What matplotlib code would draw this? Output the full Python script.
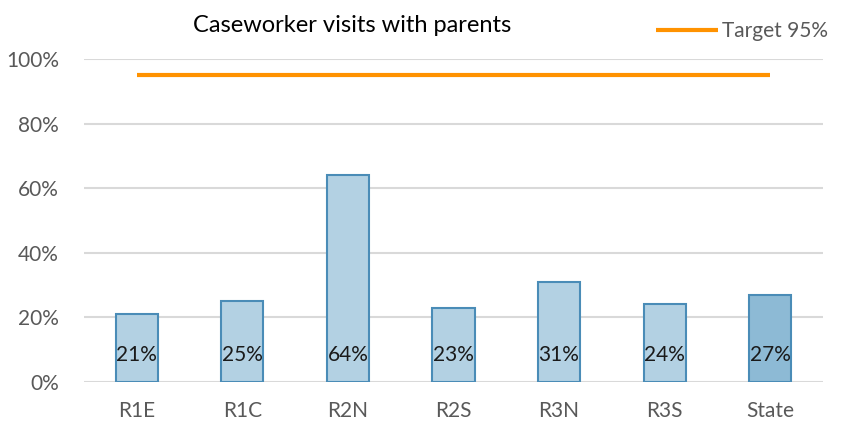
import matplotlib
matplotlib.use("Agg")
import matplotlib.pyplot as plt
from matplotlib.ticker import FuncFormatter

categories = ["R1E", "R1C", "R2N", "R2S", "R3N", "R3S", "State"]
values = [21, 25, 64, 23, 31, 24, 27]
target = [95, 95, 95, 95, 95, 95, 95]
title = "Caseworker visits with parents"

plt.rcParams['font.family'] = ['Lato', 'DejaVu Sans']

fig = plt.figure(figsize=(8.42, 4.23), dpi=100)
ax = fig.add_axes([84/842, 1-382/423, (823-84)/842, (382-59)/423])

x = list(range(len(categories)))
colors = ["#B3D1E3"] * (len(categories) - 1) + ["#8DBAD5"]
ax.bar(x, [v/100 for v in values], width=0.4, color=colors, edgecolor="#4A8CB7", linewidth=1.5, zorder=3)
ax.plot(x, [t/100 for t in target], color="#FF9200", linewidth=3, solid_capstyle='butt', zorder=4, label="Target 95%")

for xi, v in zip(x, values):
    ax.text(xi, 0.085, f"{v}%", ha="center", va="center", fontsize=15, color="#1a1a1a", zorder=5)

ax.set_xlim(-0.5, len(categories) - 0.5)
ax.set_ylim(0, 1.0)
ax.set_yticks([0, 0.2, 0.4, 0.6, 0.8, 1.0])
ax.yaxis.set_major_formatter(FuncFormatter(lambda v, p: f"{int(round(v*100))}%"))
ax.set_xticks(x)
ax.set_xticklabels(categories)
ax.tick_params(axis='both', length=0, labelsize=15, labelcolor="#595959")
ax.tick_params(axis='x', pad=14)
ax.tick_params(axis='y', pad=18)
ax.grid(axis='y', color="#D9D9D9", linewidth=1.5, zorder=0)
ax.set_axisbelow(True)
for s in ax.spines.values():
    s.set_visible(False)

fig.text(352/842, 1-25/423, title, ha="center", va="center", fontsize=17, color="black")
leg = ax.legend(loc="upper right", bbox_to_anchor=(838/842, 1-11/423), bbox_transform=fig.transFigure,
                frameon=False, fontsize=15, handlelength=3.0, handletextpad=0.15, borderpad=0)
for t in leg.get_texts():
    t.set_color("#595959")

fig.savefig("out.png", dpi=100)
